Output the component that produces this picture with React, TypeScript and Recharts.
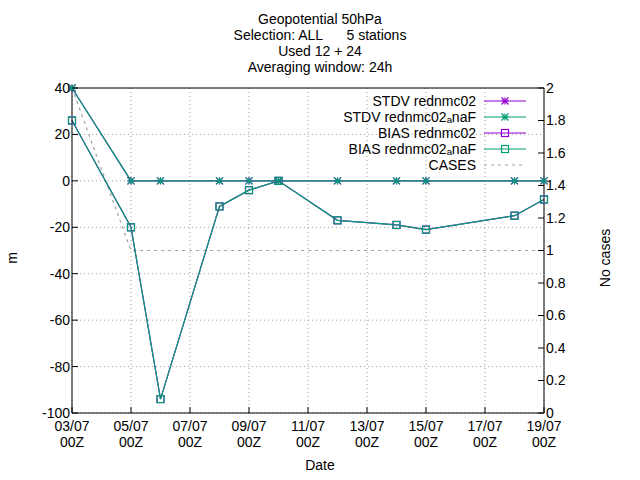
import { ComposedChart, Line, XAxis, YAxis, CartesianGrid } from "recharts";

const days = [0, 2, 3, 5, 6, 7, 9, 11, 12, 15, 16];
const stdvA = [40, 0, 0, 0, 0, 0, 0, 0, 0, 0, 0];
const stdvB = [40, 0, 0, 0, 0, 0, 0, 0, 0, 0, 0];
const biasA = [26, -20, -94, -11, -4, 0, -17, -19, -21, -15, -8];
const biasB = [26, -20, -94, -11, -4, 0, -17, -19, -21, -15, -8];
const casesDays = [0, 2, 16];
const cases = [2, 1, 1];
const xTicks = [0, 2, 4, 6, 8, 10, 12, 14, 16];
const xLabels = ["03/07", "05/07", "07/07", "09/07", "11/07", "13/07", "15/07", "17/07", "19/07"];

const PURPLE = "#9400d3";
const GREEN = "#009e73";
const font = "Liberation Sans, Arial, sans-serif";

const rows = days.map((d, i) => ({ d, sa: stdvA[i], sb: stdvB[i], ba: biasA[i], bb: biasB[i] }));
const casesRows = casesDays.map((d, i) => ({ d, c: cases[i] }));
const data = [...rows, ...casesRows].sort((a, b) => a.d - b.d);

const Star = (color: string) => (p: any) => {
  const { cx, cy } = p;
  if (cx == null || cy == null || p.value == null) return <g />;
  const r = 3.5;
  return (
    <g stroke={color} strokeWidth={1.2}>
      <line x1={cx - r} y1={cy} x2={cx + r} y2={cy} />
      <line x1={cx} y1={cy - r} x2={cx} y2={cy + r} />
      <line x1={cx - r} y1={cy - r} x2={cx + r} y2={cy + r} />
      <line x1={cx - r} y1={cy + r} x2={cx + r} y2={cy - r} />
    </g>
  );
};
const Square = (color: string) => (p: any) => {
  const { cx, cy } = p;
  if (cx == null || cy == null || p.value == null) return <g />;
  return <rect x={cx - 3.5} y={cy - 3.5} width={7} height={7} fill="none" stroke={color} strokeWidth={1.2} />;
};

const XTick = (p: any) => {
  const { x, y, payload } = p;
  const i = xTicks.indexOf(payload.value);
  return (
    <text x={x} y={y + 11} textAnchor="middle" fontSize={14} fill="#000" fontFamily={font}>
      <tspan x={x} dy="0.8em">{xLabels[i]}</tspan>
      <tspan x={x} dy="1.15em">00Z</tspan>
    </text>
  );
};

const legend = [
  { t: "STDV rednmc02", c: PURPLE, m: "star" },
  { t: "STDV rednmc02ₐnaF", c: GREEN, m: "star" },
  { t: "BIAS rednmc02", c: PURPLE, m: "sq" },
  { t: "BIAS rednmc02ₐnaF", c: GREEN, m: "sq" },
  { t: "CASES", c: "#a0a0a0", m: "dash" },
];

export default function App() {
  return (
    <div style={{ position: "relative", width: 640, height: 480, margin: -8, background: "#fff", fontFamily: font }}>
      <div style={{ position: "absolute", left: 0, width: 640, top: 11, textAlign: "center", fontSize: 14, lineHeight: "16px" }}>
        <div>Geopotential 50hPa</div>
        <div>Selection: ALL&nbsp;&nbsp;&nbsp;&nbsp;&nbsp;&nbsp;5 stations</div>
        <div>Used 12 + 24</div>
        <div>Averaging window: 24h</div>
      </div>
      <ComposedChart width={640} height={480} data={data} margin={{ top: 88, left: 22, right: 46, bottom: 27 }}>
        <CartesianGrid yAxisId="l" stroke="#a0a0a0" strokeDasharray="1 3" vertical horizontal />
        <XAxis dataKey="d" type="number" domain={[0, 16]} ticks={xTicks} tick={<XTick />} height={40}
          stroke="#000" tickSize={-6} interval={0} />
        <YAxis yAxisId="l" domain={[-100, 40]} ticks={[-100, -80, -60, -40, -20, 0, 20, 40]} width={50}
          stroke="#000" tickSize={-6} tick={{ fill: "#000", fontSize: 14, fontFamily: font, dx: -6 }} />
        <YAxis yAxisId="r" orientation="right" domain={[0, 2]} width={50}
          ticks={[0, 0.2, 0.4, 0.6, 0.8, 1, 1.2, 1.4, 1.6, 1.8, 2]} stroke="#000" tickSize={-6}
          tickFormatter={(v: number) => String(Math.round(v * 10) / 10)}
          tick={{ fill: "#000", fontSize: 14, fontFamily: font, dx: 6 }} />
        <Line yAxisId="r" dataKey="c" stroke="#a0a0a0" strokeDasharray="3 4" dot={false} strokeWidth={1.2} isAnimationActive={false} connectNulls />
        <Line yAxisId="l" dataKey="sa" stroke={PURPLE} strokeWidth={1.2} dot={Star(PURPLE)} isAnimationActive={false} connectNulls />
        <Line yAxisId="l" dataKey="ba" stroke={PURPLE} strokeWidth={1.2} dot={Square(PURPLE)} isAnimationActive={false} connectNulls />
        <Line yAxisId="l" dataKey="sb" stroke={GREEN} strokeWidth={1.2} dot={Star(GREEN)} isAnimationActive={false} connectNulls />
        <Line yAxisId="l" dataKey="bb" stroke={GREEN} strokeWidth={1.2} dot={Square(GREEN)} isAnimationActive={false} connectNulls />
      </ComposedChart>
      <div style={{ position: "absolute", left: 6, top: 250, fontSize: 14, transform: "rotate(-90deg)" }}>m</div>
      <div style={{ position: "absolute", left: 570, top: 250, width: 70, textAlign: "center", fontSize: 14, transform: "rotate(-90deg)" }}>No cases</div>
      <div style={{ position: "absolute", left: 0, width: 640, top: 457, textAlign: "center", fontSize: 14 }}>Date</div>
      <svg style={{ position: "absolute", left: 0, top: 0 }} width={640} height={480}>
        <line x1={72} x2={544} y1={88} y2={88} stroke="#000" strokeWidth={1} />
        {legend.map((l, i) => {
          const y = 101 + i * 16;
          return (
            <g key={i}>
              <text x={476} y={y + 5} textAnchor="end" fontSize={14} fontFamily={font}>{l.t}</text>
              <line x1={484} x2={526} y1={y} y2={y} stroke={l.c} strokeWidth={1.2} strokeDasharray={l.m === "dash" ? "3 4" : undefined} />
              {l.m === "star" && Star(l.c)({ cx: 505, cy: y, value: 1 })}
              {l.m === "sq" && Square(l.c)({ cx: 505, cy: y, value: 1 })}
            </g>
          );
        })}
      </svg>
    </div>
  );
}
